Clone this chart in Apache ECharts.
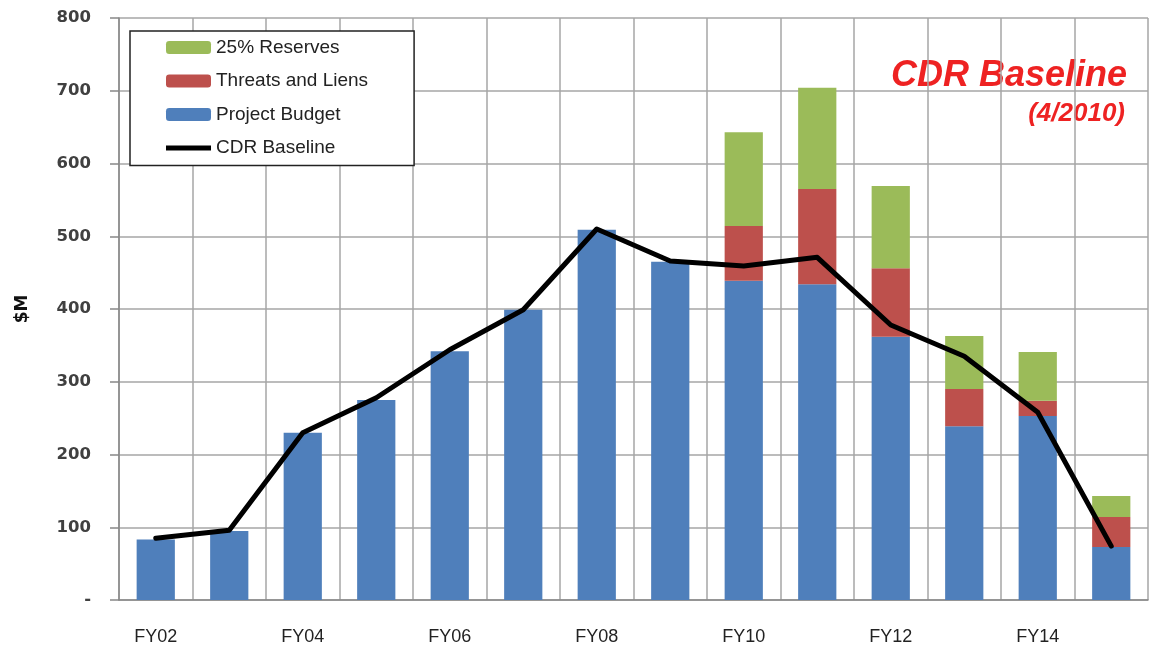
<!DOCTYPE html>
<html>
<head>
<meta charset="utf-8">
<script src="https://cdn.jsdelivr.net/npm/echarts@6/dist/echarts.min.js"></script>
<style>
  html, body { margin: 0; padding: 0; background: #fff; }
  #main { width: 1151px; height: 650px; }
</style>
</head>
<body>
<div id="main"></div>
<script>
// fiscal years
var years = ['FY02', 'FY03', 'FY04', 'FY05', 'FY06', 'FY07', 'FY08',
             'FY09', 'FY10', 'FY11', 'FY12', 'FY13', 'FY14', 'FY15'];

// $M
var projectBudget = [83, 95, 230, 275, 342, 399, 509, 465, 439, 434, 362, 239, 253, 73];
var threatsLiens  = [0, 0, 0, 0, 0, 0, 0, 0, 75, 131, 94, 51, 21, 41];
var reserves      = [0, 0, 0, 0, 0, 0, 0, 0, 129, 139, 113, 73, 67, 29];
var cdrBaseline   = [85, 96, 230, 278, 344, 399, 510, 466, 459, 471, 378, 335, 258, 74];

var gridColor = '#a6a6a6';

var option = {
    backgroundColor: '#ffffff',
    animation: false,
    grid: {
        left: 119,
        right: 3,
        top: 18,
        bottom: 50
    },
    // title in the top right corner
    graphic: [
        {
            type: 'text',
            right: 24,
            top: 58,
            style: {
                text: 'CDR Baseline',
                fill: '#ee2222',
                font: 'italic bold 36px "Liberation Sans", Arial, sans-serif'
            }
        },
        {
            type: 'text',
            right: 26,
            top: 101,
            style: {
                text: '(4/2010)',
                fill: '#ee2222',
                font: 'italic bold 26px "Liberation Sans", Arial, sans-serif'
            }
        }
    ],
    legend: {
        orient: 'vertical',
        left: 130,
        top: 31,
        padding: [7, 46, 8, 36],
        itemWidth: 45,
        itemHeight: 13,
        itemGap: 14.5,
        borderColor: '#222',
        borderWidth: 1.5,
        backgroundColor: '#fff',
        textStyle: {
            fontFamily: '"Liberation Sans", Arial, sans-serif',
            fontSize: 19,
            color: '#222'
        },
        data: [
            '25% Reserves',
            'Threats and Liens',
            'Project Budget',
            { name: 'CDR Baseline', icon: 'path://M0,0 H45 V5 H0 Z', itemStyle: { color: '#000' } }
        ]
    },
    xAxis: {
        type: 'category',
        data: years,
        boundaryGap: true,
        axisLine: { lineStyle: { color: '#888', width: 1.5 } },
        axisTick: { interval: 0, length: 8, lineStyle: { color: '#888', width: 1.5 } },
        splitLine: { show: true, interval: 0, lineStyle: { color: gridColor, width: 1.5 } },
        axisLabel: {
            interval: 1,
            margin: 28,
            fontFamily: '"Liberation Sans", Arial, sans-serif',
            fontSize: 18,
            color: '#222'
        }
    },
    yAxis: {
        type: 'value',
        min: 0,
        max: 800,
        interval: 100,
        name: '$M',
        nameLocation: 'middle',
        nameGap: 88,
        nameRotate: 90,
        nameTextStyle: {
            fontFamily: '"DejaVu Sans", sans-serif',
            fontWeight: 'bold',
            fontSize: 17,
            color: '#111'
        },
        axisLine: { show: true, lineStyle: { color: '#888', width: 1.5 } },
        axisTick: { show: true, length: 9, lineStyle: { color: '#888', width: 1.5 } },
        splitLine: { show: true, lineStyle: { color: gridColor, width: 1.5 } },
        axisLabel: {
            margin: 28,
            fontFamily: '"DejaVu Sans", sans-serif',
            fontWeight: 'bold',
            fontSize: 16.5,
            color: '#404040',
            formatter: function (v) { return v === 0 ? '-' : v; }
        }
    },
    series: [
        {
            name: 'Project Budget',
            type: 'bar',
            stack: 'total',
            barWidth: '52%',
            itemStyle: { color: '#4f7fbb' },
            data: projectBudget
        },
        {
            name: 'Threats and Liens',
            type: 'bar',
            stack: 'total',
            itemStyle: { color: '#bd504c' },
            data: threatsLiens
        },
        {
            name: '25% Reserves',
            type: 'bar',
            stack: 'total',
            itemStyle: { color: '#9bbb59' },
            data: reserves
        },
        {
            name: 'CDR Baseline',
            type: 'line',
            symbol: 'none',
            z: 5,
            lineStyle: { color: '#000', width: 5, cap: 'round', join: 'round' },
            itemStyle: { color: '#000' },
            data: cdrBaseline
        }
    ]
};

var myChart = echarts.init(document.getElementById('main'));
myChart.setOption(option);
</script>
</body>
</html>
